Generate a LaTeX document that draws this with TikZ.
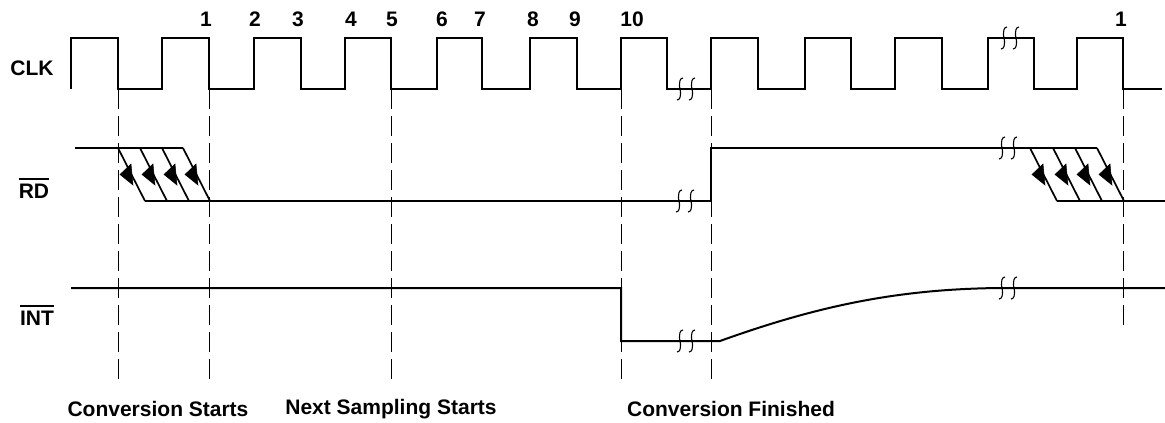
\documentclass[tikz,border=0pt]{standalone}
\usepackage{fontspec}
\setmainfont{Liberation Sans}
\begin{document}
\begin{tikzpicture}[x=1pt,y=-1pt,
  sig/.style={line width=2pt,line join=miter},
  slant/.style={line width=1.7pt},
  guide/.style={line width=0.9pt,dash pattern=on 20pt off 7pt},
  lbl/.style={font=\fontsize{21}{23}\selectfont\bfseries,inner sep=0pt},
  bar/.style={line width=1.8pt},
  brkline/.style={line width=1.1pt},
  arrowtri/.style={fill=black,draw=black,line width=0.5pt,line join=miter}]
\useasboundingbox (0,0) rectangle (1165,423);
\newcommand\brkmark[2]{%
  \foreach \dx in {-6,6}{%
    \draw[brkline] ({#1+\dx+3},{#2-11}) to[out=180,in=90] ({#1+\dx-0.5},{#2-3})
      to[out=-90,in=90] ({#1+\dx+0.5},{#2+3}) to[out=-90,in=0] ({#1+\dx-3},{#2+11});}}
\newcommand\rdarrow[1]{%
  \fill[arrowtri] ({#1+13},164) -- ({#1+15},185) -- ({#1+2},174.5) -- cycle;}
% dashed guides
\foreach \x in {118,209,391,621,711}{\draw[guide] (\x,89) -- (\x,385);}
\draw[guide] (1123,89) -- (1123,327);
% CLK
\draw[sig] (71,89) -- (71,38) -- (118,38) -- (118,89) -- (162,89) -- (162,38) -- (209,38) -- (209,89)
 -- (254,89) -- (254,38) -- (301,38) -- (301,89) -- (345,89) -- (345,38) -- (391,38) -- (391,89)
 -- (437,89) -- (437,38) -- (482,38) -- (482,89) -- (530,89) -- (530,38) -- (577,38) -- (577,89)
 -- (621,89) -- (621,38) -- (667,38) -- (667,89) -- (711,89) -- (711,38) -- (758,38) -- (758,89)
 -- (805,89) -- (805,38) -- (851,38) -- (851,89) -- (895,89) -- (895,38) -- (942,38) -- (942,89)
 -- (988,89) -- (988,38) -- (1034,38) -- (1034,89) -- (1077,89) -- (1077,38) -- (1123,38) -- (1123,89)
 -- (1162,89);
\brkmark{686}{89}
\brkmark{1010}{38}
% RD
\draw[sig] (75,148) -- (183,148);
\foreach \a in {118,140,162,183}{\draw[slant] (\a,148) -- ({\a+27},201); \rdarrow{\a}}
\draw[sig] (145,201) -- (711,201) -- (711,148) -- (1097,148);
\foreach \a in {1030,1053,1075,1097}{\draw[slant] (\a,148) -- ({\a+27},201); \rdarrow{\a}}
\draw[sig] (1057,201) -- (1165,201);
\brkmark{685}{201}
\brkmark{1008}{148}
% INT
\draw[sig] (71,288) -- (621,288) -- (621,341) -- (720,341)
  .. controls (820,305) and (900,289) .. (1000,288) -- (1165,288);
\brkmark{686}{341}
\brkmark{1008}{288}
% labels
\node[lbl] (clk) at (32,68) {CLK};
\node[lbl] (rd) at (34,191) {RD};
\node[lbl] (int) at (37,318) {INT};
\draw[bar] ([yshift=4.5pt]rd.north west) -- ([yshift=4.5pt]rd.north east);
\draw[bar] ([yshift=4.5pt]int.north west) -- ([yshift=4.5pt]int.north east);
\node[lbl] (n1) at (206,19) {1};
\node[lbl] (n2) at (255,19) {2};
\node[lbl] (n3) at (298,19) {3};
\node[lbl] (n4) at (351,19) {4};
\node[lbl] (n5) at (392,19) {5};
\node[lbl] (n6) at (442,19) {6};
\node[lbl] (n7) at (480,19) {7};
\node[lbl] (n8) at (533,19) {8};
\node[lbl] (n9) at (575,19) {9};
\node[lbl] (n10) at (632,19) {10};
\node[lbl] (n1b) at (1121,19) {1};
\node[lbl] (cs) at (158,409) {Conversion Starts};
\node[lbl] (ns) at (391,409) {Next Sampling Starts};
\node[lbl] (cf) at (731,409) {Conversion Finished};
\end{tikzpicture}
\end{document}
